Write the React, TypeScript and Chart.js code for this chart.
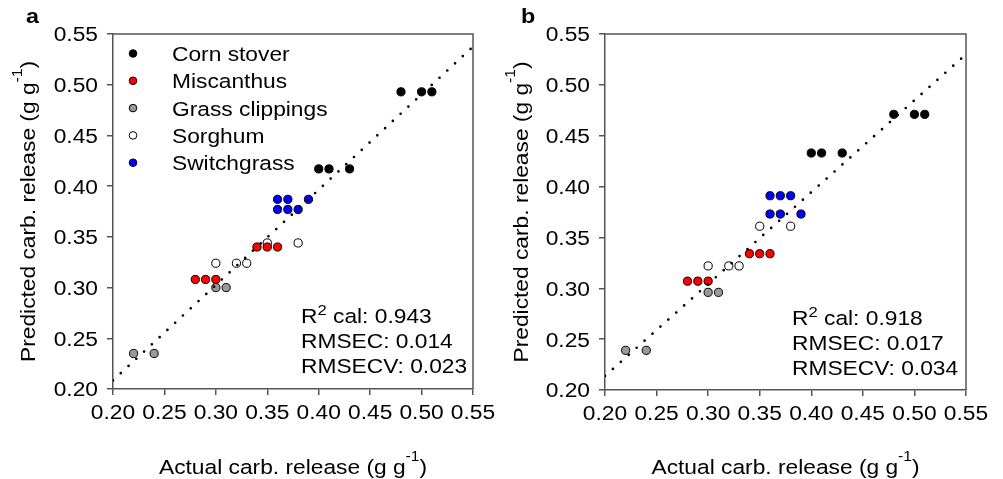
import React, { useEffect, useRef } from "react";
import { Chart, registerables } from "chart.js";

Chart.register(...registerables);

const FONT = "'Liberation Sans', Arial, Helvetica, sans-serif";
const MAIN_SIZE = 20.5;
const STRETCH = 1.11;

// ---------- data ----------
const CATEGORIES = ["Corn stover", "Miscanthus", "Grass clippings", "Sorghum", "Switchgrass"];
const AXIS_TICKS = [0.2, 0.25, 0.3, 0.35, 0.4, 0.45, 0.5, 0.55];

// Panel a
const CORN_ACT_A = [0.48, 0.5, 0.51, 0.4, 0.41, 0.43];
const CORN_PRED_A = [0.493, 0.493, 0.493, 0.417, 0.417, 0.417];
const MISC_ACT_A = [0.34, 0.35, 0.36, 0.28, 0.29, 0.3];
const MISC_PRED_A = [0.34, 0.34, 0.34, 0.308, 0.308, 0.308];
const GRASS_ACT_A = [0.3, 0.31, 0.22, 0.24];
const GRASS_PRED_A = [0.3, 0.3, 0.235, 0.235];
const SORG_ACT_A = [0.35, 0.38, 0.3, 0.32, 0.33];
const SORG_PRED_A = [0.344, 0.344, 0.324, 0.324, 0.324];
const SWITCH_ACT_A = [0.36, 0.37, 0.39, 0.36, 0.37, 0.38];
const SWITCH_PRED_A = [0.387, 0.387, 0.387, 0.377, 0.377, 0.377];
const FIT_X_A = [0.2, 0.55];
const FIT_Y_A = [0.2085, 0.5375];
const STATS_A = ["0.943", "0.014", "0.023"];

// Panel b
const CORN_ACT_B = [0.48, 0.5, 0.51, 0.4, 0.41, 0.43];
const CORN_PRED_B = [0.471, 0.471, 0.471, 0.433, 0.433, 0.433];
const MISC_ACT_B = [0.34, 0.35, 0.36, 0.28, 0.29, 0.3];
const MISC_PRED_B = [0.334, 0.334, 0.334, 0.307, 0.307, 0.307];
const GRASS_ACT_B = [0.3, 0.31, 0.22, 0.24];
const GRASS_PRED_B = [0.296, 0.296, 0.239, 0.239];
const SORG_ACT_B = [0.35, 0.38, 0.3, 0.32, 0.33];
const SORG_PRED_B = [0.361, 0.361, 0.322, 0.322, 0.322];
const SWITCH_ACT_B = [0.36, 0.37, 0.38, 0.36, 0.37, 0.39];
const SWITCH_PRED_B = [0.391, 0.391, 0.391, 0.373, 0.373, 0.373];
const FIT_X_B = [0.2, 0.55];
const FIT_Y_B = [0.2138, 0.53];
const STATS_B = ["0.918", "0.017", "0.034"];

const COLORS = ["#000000", "#ff0000", "#999999", "#ffffff", "#0000ff"];
const DRAW_ORDER = [1, 2, 5, 4, 3];

const zip = (xs: number[], ys: number[]) => xs.map((x, i) => ({ x, y: ys[i] }));

type Part = { t: string; size?: number; raise?: number; bold?: boolean };

function drawRich(
  ctx: CanvasRenderingContext2D,
  parts: Part[],
  x: number,
  y: number,
  align: "left" | "center" | "right"
) {
  const fontOf = (p: Part) => `${p.bold ? "bold " : ""}${p.size ?? MAIN_SIZE}px ${FONT}`;
  const widths = parts.map((p) => {
    ctx.font = fontOf(p);
    return ctx.measureText(p.t).width;
  });
  const total = widths.reduce((a, b) => a + b, 0);
  let cx = align === "center" ? -total / 2 : align === "right" ? -total : 0;
  ctx.save();
  ctx.translate(x, y);
  ctx.scale(STRETCH, 1);
  ctx.textAlign = "left";
  ctx.textBaseline = "alphabetic";
  parts.forEach((p, i) => {
    ctx.font = fontOf(p);
    ctx.fillText(p.t, cx, -(p.raise ?? 0));
    cx += widths[i];
  });
  ctx.restore();
}

interface PanelCfg {
  letter: string;
  width: number;
  plotLeft: number;
  plotRight: number;
  plotBottom: number;
  series: { xs: number[]; ys: number[] }[];
  fitX: number[];
  fitY: number[];
  stats: string[];
  statsX: number;
  statsY: number;
  yTitleX: number;
  legend: boolean;
}

function makeChart(canvas: HTMLCanvasElement, cfg: PanelCfg) {
  const H = 479;
  const top = 34;
  const datasets: any[] = [
    {
      label: "fit",
      data: zip(cfg.fitX, cfg.fitY),
      showLine: true,
      borderColor: "#000",
      borderWidth: 2.7,
      borderDash: [0, 10.6],
      borderCapStyle: "round",
      pointRadius: 0,
      order: 0,
    },
  ];
  cfg.series.forEach((s, i) => {
    datasets.push({
      label: CATEGORIES[i],
      data: zip(s.xs, s.ys),
      backgroundColor: COLORS[i],
      borderColor: "#000",
      borderWidth: 1,
      pointRadius: 4.1,
      order: DRAW_ORDER[i],
    });
  });

  const grid = { drawOnChartArea: false, drawTicks: true, tickLength: 6, color: "#555", lineWidth: 1.5 };
  const border = { display: true, color: "#555", width: 1.5 };
  const setTicks = (s: any) => {
    s.ticks = AXIS_TICKS.map((v) => ({ value: v }));
  };
  const fmt = (v: number) => v.toFixed(2);

  const textPlugin = {
    id: "txt" + cfg.letter,
    afterDraw(chart: any) {
      const ctx: CanvasRenderingContext2D = chart.ctx;
      const a = chart.chartArea;
      const xs = chart.scales.x;
      const ys = chart.scales.y;
      ctx.save();
      // top & right border
      ctx.strokeStyle = "#555";
      ctx.lineWidth = 1.5;
      ctx.beginPath();
      ctx.moveTo(a.left, a.top);
      ctx.lineTo(a.right, a.top);
      ctx.lineTo(a.right, a.bottom);
      ctx.stroke();

      ctx.fillStyle = "#000";
      // tick labels
      xs.ticks.forEach((t: any) => {
        drawRich(ctx, [{ t: fmt(t.value) }], xs.getPixelForValue(t.value), a.bottom + 29.5, "center");
      });
      ys.ticks.forEach((t: any) => {
        drawRich(ctx, [{ t: fmt(t.value) }], a.left - 15, ys.getPixelForValue(t.value) + 7.4, "right");
      });

      // panel letter
      drawRich(ctx, [{ t: cfg.letter, bold: true, size: 21 }], 26, 23, "left");

      // x title
      drawRich(
        ctx,
        [{ t: "Actual carb. release (g g" }, { t: "-1", size: 14, raise: 13 }, { t: ")" }],
        (a.left + a.right) / 2,
        474,
        "center"
      );
      // y title
      ctx.save();
      ctx.translate(cfg.yTitleX, (a.top + a.bottom) / 2);
      ctx.rotate(-Math.PI / 2);
      drawRich(
        ctx,
        [{ t: "Predicted carb. release (g g" }, { t: "-1", size: 14, raise: 13 }, { t: ")" }],
        0,
        0,
        "center"
      );
      ctx.restore();

      // stats
      drawRich(
        ctx,
        [{ t: "R" }, { t: "2", size: 15, raise: 8 }, { t: " cal: " + cfg.stats[0] }],
        cfg.statsX,
        cfg.statsY,
        "left"
      );
      drawRich(ctx, [{ t: "RMSEC: " + cfg.stats[1] }], cfg.statsX, cfg.statsY + 25, "left");
      drawRich(ctx, [{ t: "RMSECV: " + cfg.stats[2] }], cfg.statsX, cfg.statsY + 50, "left");

      // legend
      if (cfg.legend) {
        CATEGORIES.forEach((name, i) => {
          const cy = 53.5 + i * 27.3;
          ctx.beginPath();
          ctx.arc(133, cy, 3.8, 0, Math.PI * 2);
          ctx.fillStyle = COLORS[i];
          ctx.fill();
          ctx.strokeStyle = "#000";
          ctx.lineWidth = 1;
          ctx.stroke();
          ctx.fillStyle = "#000";
          drawRich(ctx, [{ t: name }], 172, cy + 7.4, "left");
        });
      }
      ctx.restore();
    },
  };

  return new Chart(canvas, {
    type: "scatter",
    data: { datasets },
    plugins: [textPlugin],
    options: {
      animation: false,
      responsive: false,
      devicePixelRatio: 1,
      layout: { padding: { left: 0, top, right: cfg.width - cfg.plotRight, bottom: 0 } },
      plugins: { legend: { display: false }, tooltip: { enabled: false } },
      scales: {
        x: {
          type: "linear",
          min: 0.2,
          max: 0.55,
          afterBuildTicks: setTicks,
          afterFit: (s: any) => {
            s.height = H - cfg.plotBottom;
          },
          ticks: { display: false, autoSkip: false },
          grid,
          border,
        },
        y: {
          type: "linear",
          min: 0.2,
          max: 0.55,
          afterBuildTicks: setTicks,
          afterFit: (s: any) => {
            s.width = cfg.plotLeft;
          },
          ticks: { display: false, autoSkip: false },
          grid,
          border,
        },
      },
    } as any,
  });
}

export default function App() {
  const refA = useRef<HTMLCanvasElement>(null);
  const refB = useRef<HTMLCanvasElement>(null);

  useEffect(() => {
    const a = makeChart(refA.current!, {
      letter: "a",
      width: 495,
      plotLeft: 113,
      plotRight: 473,
      plotBottom: 389,
      series: [
        { xs: CORN_ACT_A, ys: CORN_PRED_A },
        { xs: MISC_ACT_A, ys: MISC_PRED_A },
        { xs: GRASS_ACT_A, ys: GRASS_PRED_A },
        { xs: SORG_ACT_A, ys: SORG_PRED_A },
        { xs: SWITCH_ACT_A, ys: SWITCH_PRED_A },
      ],
      fitX: FIT_X_A,
      fitY: FIT_Y_A,
      stats: STATS_A,
      statsX: 301,
      statsY: 323,
      yTitleX: 35,
      legend: true,
    });
    const b = makeChart(refB.current!, {
      letter: "b",
      width: 508,
      plotLeft: 110,
      plotRight: 471,
      plotBottom: 390,
      series: [
        { xs: CORN_ACT_B, ys: CORN_PRED_B },
        { xs: MISC_ACT_B, ys: MISC_PRED_B },
        { xs: GRASS_ACT_B, ys: GRASS_PRED_B },
        { xs: SORG_ACT_B, ys: SORG_PRED_B },
        { xs: SWITCH_ACT_B, ys: SWITCH_PRED_B },
      ],
      fitX: FIT_X_B,
      fitY: FIT_Y_B,
      stats: STATS_B,
      statsX: 297,
      statsY: 325,
      yTitleX: 33,
      legend: false,
    });
    return () => {
      a.destroy();
      b.destroy();
    };
  }, []);

  return (
    <div style={{ position: "absolute", left: 0, top: 0, width: 1003, height: 479, background: "#fff" }}>
      <canvas ref={refA} width={495} height={479} style={{ position: "absolute", left: 0, top: 0, width: 495, height: 479 }} />
      <canvas ref={refB} width={508} height={479} style={{ position: "absolute", left: 495, top: 0, width: 508, height: 479 }} />
    </div>
  );
}
